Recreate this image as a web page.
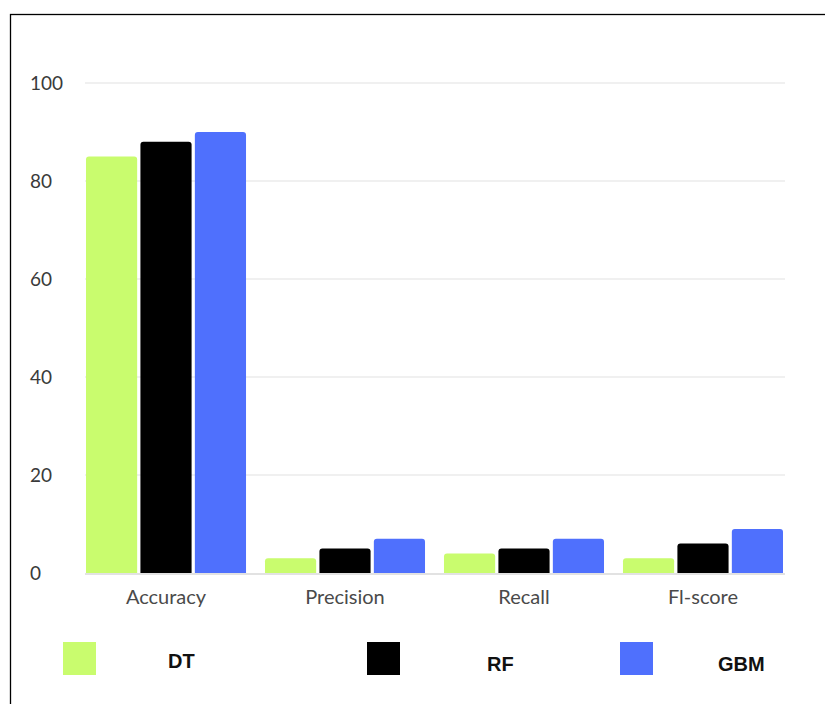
<!DOCTYPE html>
<html>
<head>
<meta charset="utf-8">
<script src="https://cdn.jsdelivr.net/npm/d3@7"></script>
<style>
  body { margin: 0; background: #fff; }
  svg { display: block; }
</style>
</head>
<body>
<div id="chart"></div>
<script>
const categories = ['Accuracy', 'Precision', 'Recall', 'Fl-score']
const models = ['DT', 'RF', 'GBM']
const dtValues = [85, 3, 4, 3]
const rfValues = [88, 5, 5, 6]
const gbmValues = [90, 7, 7, 9]
const yTicks = [0, 20, 40, 60, 80, 100]
const colors = ['#c9fc6e', '#000000', '#4f70fd']

const seriesValues = [dtValues, rfValues, gbmValues]

const width = 825
const height = 704

const svg = d3
  .select('#chart')
  .append('svg')
  .attr('width', width)
  .attr('height', height)

// outer frame (runs past the right and bottom edges)
svg
  .append('rect')
  .attr('x', 10.5)
  .attr('y', 14.5)
  .attr('width', 830)
  .attr('height', 700)
  .attr('fill', 'none')
  .attr('stroke', '#000')
  .attr('stroke-width', 1.3)

const x0 = d3
  .scaleBand()
  .domain(categories)
  .range([86, 783])
  .paddingInner(0.106)
  .paddingOuter(0)

const x1 = d3
  .scaleBand()
  .domain(models)
  .range([0, x0.bandwidth()])
  .paddingInner(0.06)

const y = d3
  .scaleLinear()
  .domain([0, 100])
  .range([573, 83])

// gridlines
svg
  .append('g')
  .selectAll('line')
  .data(yTicks.filter(d => d > 0))
  .enter()
  .append('line')
  .attr('x1', 85)
  .attr('x2', 785)
  .attr('y1', d => y(d))
  .attr('y2', d => y(d))
  .attr('stroke', '#f0f0f0')
  .attr('stroke-width', 2)

// y labels
svg
  .append('g')
  .selectAll('text')
  .data(yTicks)
  .enter()
  .append('text')
  .attr('x', 30)
  .attr('y', d => y(d))
  .attr('dy', '0.35em')
  .attr('font-family', 'Lato, sans-serif')
  .attr('font-size', 19)
  .attr('fill', '#3a3a3a')
  .text(d => d)

const rows = categories.map((c, i) => ({
  category: c,
  values: models.map((m, j) => ({ model: m, value: seriesValues[j][i], color: colors[j] }))
}))

// rounded-top bar path
function barPath(x, yTop, w, yBase, r) {
  r = Math.min(r, (yBase - yTop) / 2)
  return 'M' + x + ',' + yBase +
    'V' + (yTop + r) +
    'Q' + x + ',' + yTop + ' ' + (x + r) + ',' + yTop +
    'H' + (x + w - r) +
    'Q' + (x + w) + ',' + yTop + ' ' + (x + w) + ',' + (yTop + r) +
    'V' + yBase + 'Z'
}

svg
  .append('g')
  .selectAll('g')
  .data(rows)
  .enter()
  .append('g')
  .attr('transform', d => 'translate(' + x0(d.category) + ',0)')
  .selectAll('path')
  .data(d => d.values)
  .enter()
  .append('path')
  .attr('d', d => barPath(x1(d.model), y(d.value), x1.bandwidth(), y(0), 3))
  .attr('fill', d => d.color)

// baseline
svg
  .append('line')
  .attr('x1', 85)
  .attr('x2', 785)
  .attr('y1', y(0) + 1)
  .attr('y2', y(0) + 1)
  .attr('stroke', '#e2e2e2')
  .attr('stroke-width', 2)

// x labels
svg
  .append('g')
  .selectAll('text')
  .data(categories)
  .enter()
  .append('text')
  .attr('x', d => x0(d) + x0.bandwidth() / 2)
  .attr('y', 597)
  .attr('dy', '0.35em')
  .attr('text-anchor', 'middle')
  .attr('font-family', 'Lato, sans-serif')
  .attr('font-size', 20)
  .attr('fill', '#4a4a4a')
  .text(d => d)

// legend
const legendSquareX = [63, 367, 620]
const legendTextX = [168, 487, 718]

const legend = svg
  .append('g')
  .selectAll('g')
  .data(models)
  .enter()
  .append('g')

legend
  .append('rect')
  .attr('x', (d, i) => legendSquareX[i])
  .attr('y', 642)
  .attr('width', 33)
  .attr('height', 33)
  .attr('fill', (d, i) => colors[i])

legend
  .append('text')
  .attr('x', (d, i) => legendTextX[i])
  .attr('y', (d, i) => (i === 0 ? 661 : 664))
  .attr('dy', '0.35em')
  .attr('font-family', 'Liberation Sans, Arial, sans-serif')
  .attr('font-weight', 'bold')
  .attr('font-size', 20)
  .attr('fill', '#111')
  .text(d => d)
</script>
</body>
</html>
